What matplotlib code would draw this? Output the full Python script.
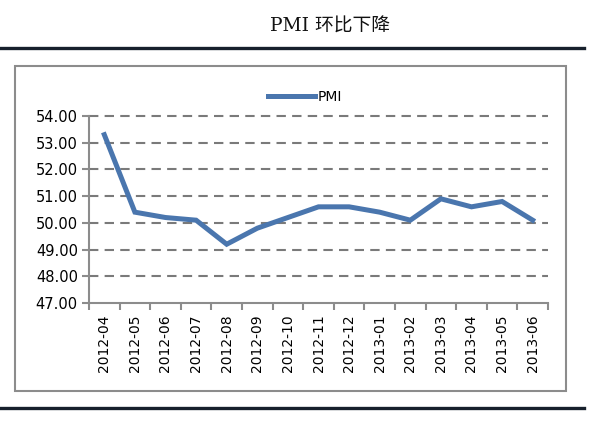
import matplotlib
matplotlib.use("Agg")
import matplotlib.pyplot as plt
from matplotlib.lines import Line2D
from matplotlib.patches import Rectangle

months = ["2012-04", "2012-05", "2012-06", "2012-07", "2012-08", "2012-09",
          "2012-10", "2012-11", "2012-12", "2013-01", "2013-02", "2013-03",
          "2013-04", "2013-05", "2013-06"]
pmi = [53.3, 50.4, 50.2, 50.1, 49.2, 49.8, 50.2, 50.6, 50.6, 50.4, 50.1,
       50.9, 50.6, 50.8, 50.1]
yticks = [47, 48, 49, 50, 51, 52, 53, 54]

W, H = 592, 434
fig = plt.figure(figsize=(W / 100, H / 100), dpi=100)

# outer frame and the two dark rules
fig.add_artist(Line2D([0, 584 / W], [1 - 48 / H] * 2, color="#17202c", lw=2.4))
fig.add_artist(Line2D([0, 584 / W], [1 - 408 / H] * 2, color="#17202c", lw=2.4))
fig.add_artist(Rectangle((14.5 / W, 1 - 391 / H), (566 - 14.5) / W, (391 - 65.5) / H,
                         fill=False, edgecolor="#8c8c8c", lw=1.5))
fig.text(330 / W, 1 - 27 / H, "PMI 环比下降", ha="center", va="center",
         fontsize=13.5, family=["DejaVu Serif", "Noto Sans CJK SC"], color="#111111")

ax = fig.add_axes([89 / W, 1 - 303 / H, 459 / W, (303 - 116) / H])
x = list(range(len(months)))
ax.plot(x, pmi, color="#4a76ae", lw=3.6, solid_joinstyle="miter", label="PMI")

ax.set_xlim(-0.5, len(months) - 0.5)
ax.set_ylim(47, 54)
ax.set_yticks(yticks)
ax.set_yticklabels([f"{v:.2f}" for v in yticks], fontsize=10.5)
ax.set_xticks(x)
ax.set_xticklabels(months, rotation=90, fontsize=10)
ax.tick_params(axis="x", length=0, pad=8)
ax.set_xticks([i - 0.5 for i in range(len(months) + 1)], minor=True)
ax.tick_params(axis="x", which="minor", length=5, width=1.5, color="#8c8c8c")
ax.tick_params(axis="y", length=5, width=1.5, color="#8c8c8c", pad=3)

for v in yticks[1:]:
    ax.axhline(v, color="#7a7a7a", lw=1.5, ls=(0, (4.5, 3)), zorder=0, clip_on=False)

for s in ["top", "right"]:
    ax.spines[s].set_visible(False)
for s in ["left", "bottom"]:
    ax.spines[s].set_color("#8c8c8c")
    ax.spines[s].set_linewidth(1.5)

ax.legend(loc="center", bbox_to_anchor=(305 / W, 1 - 97 / H),
          bbox_transform=fig.transFigure, frameon=False, fontsize=10,
          handlelength=3.4, handletextpad=0.2)

fig.savefig("out.png", dpi=100)
